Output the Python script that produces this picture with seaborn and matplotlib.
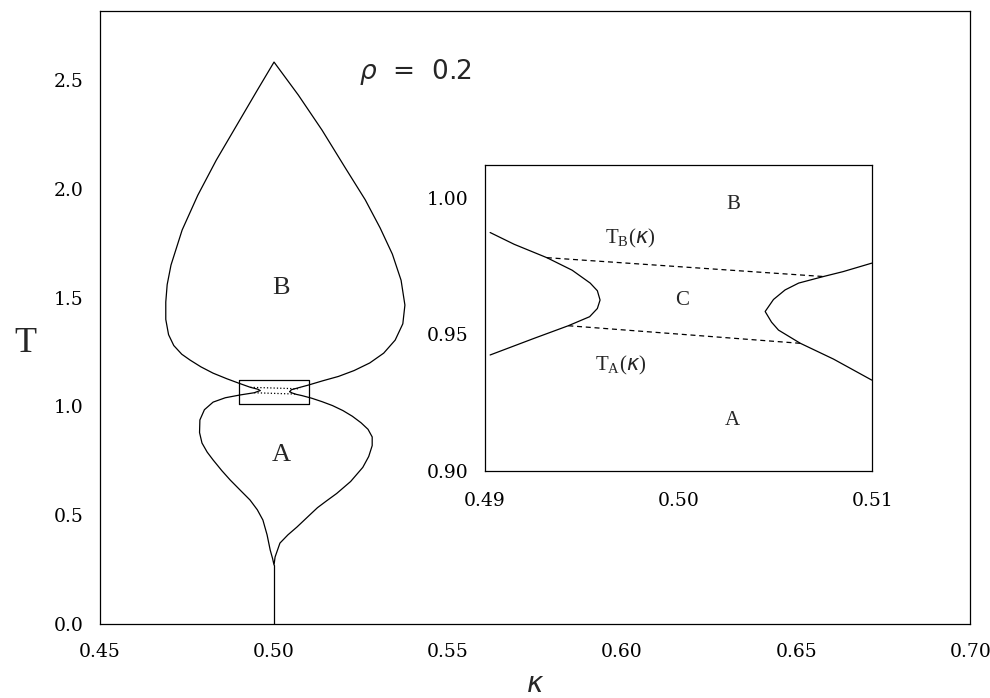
import matplotlib
matplotlib.use("Agg")
import matplotlib.pyplot as plt
import seaborn as sns
import pandas as pd

# ---------------- data ----------------
# main plot: upper loop (phase B boundary), left tip -> apex -> right tip
b_loop_k = [0.4960, 0.4954, 0.4932, 0.4897, 0.4865, 0.4825, 0.4790, 0.4759, 0.4735,
            0.4712, 0.4697, 0.4689, 0.4689, 0.4693, 0.4704, 0.4736, 0.4781, 0.4834,
            0.4893, 0.4952, 0.5000,
            0.5070, 0.5138, 0.5205, 0.5262, 0.5305, 0.5340, 0.5365, 0.5376, 0.5370,
            0.5348, 0.5315, 0.5275, 0.5230, 0.5185, 0.5140, 0.5098, 0.5068, 0.5050,
            0.5045]
b_loop_T = [1.073, 1.079, 1.088, 1.108, 1.127, 1.153, 1.182, 1.213, 1.240,
            1.280, 1.330, 1.400, 1.480, 1.560, 1.650, 1.811, 1.971, 2.132,
            2.293, 2.454, 2.583,
            2.431, 2.270, 2.096, 1.950, 1.820, 1.700, 1.580, 1.466, 1.380,
            1.305, 1.245, 1.200, 1.165, 1.138, 1.118, 1.098, 1.085, 1.077,
            1.068]
# main plot: lower loop (phase A boundary), left tip -> cusp -> right tip
a_loop_k = [0.4960, 0.4943, 0.4903, 0.4860, 0.4825, 0.4800, 0.4787, 0.4786, 0.4793,
            0.4808, 0.4825, 0.4850, 0.4874, 0.4903, 0.4931, 0.4952, 0.4968, 0.4980,
            0.4989, 0.4996, 0.5000,
            0.5003, 0.5017, 0.5040, 0.5066, 0.5105, 0.5125, 0.5150, 0.5180, 0.5220,
            0.5255, 0.5272, 0.5282, 0.5282, 0.5270, 0.5250, 0.5225, 0.5198, 0.5168,
            0.5138, 0.5108, 0.5080, 0.5063, 0.5052, 0.5045]
a_loop_T = [1.073, 1.063, 1.053, 1.040, 1.020, 0.985, 0.938, 0.880, 0.832,
            0.790, 0.754, 0.705, 0.662, 0.615, 0.570, 0.525, 0.478, 0.410,
            0.340, 0.300, 0.271,
            0.308, 0.372, 0.410, 0.446, 0.505, 0.535, 0.565, 0.600, 0.655,
            0.720, 0.770, 0.820, 0.860, 0.895, 0.925, 0.955, 0.981, 1.004,
            1.022, 1.038, 1.050, 1.056, 1.062, 1.068]
# vertical line below cusp
stem_k = [0.500, 0.500]
stem_T = [0.000, 0.271]
# dotted lines inside the small box (main plot)
tb_main_k = [0.4932, 0.5075]
tb_main_T = [1.088, 1.081]
ta_main_k = [0.4943, 0.5063]
ta_main_T = [1.063, 1.057]
# zoom box drawn on main plot
box_k = [0.490, 0.510, 0.510, 0.490, 0.490]
box_T = [1.011, 1.011, 1.121, 1.121, 1.011]

# inset curves
in_left_k = [0.49026, 0.4915, 0.49319, 0.4945, 0.49543, 0.4958, 0.49594,
             0.4958, 0.4954, 0.4943, 0.4925, 0.49026]
in_left_T = [0.9873, 0.9830, 0.9781, 0.9735, 0.9688, 0.9660, 0.9626,
             0.9595, 0.9565, 0.9532, 0.9485, 0.9425]
in_right_k = [0.50998, 0.5085, 0.50748, 0.5062, 0.5055, 0.5049, 0.50447,
              0.5048, 0.50516, 0.50628, 0.5080, 0.50998]
in_right_T = [0.9761, 0.9730, 0.9712, 0.9688, 0.9663, 0.9628, 0.9584,
              0.9545, 0.9516, 0.9468, 0.9410, 0.9333]
in_tb_k = [0.49319, 0.50748]
in_tb_T = [0.9781, 0.9712]
in_ta_k = [0.4943, 0.50628]
in_ta_T = [0.9532, 0.94677]

main_xticks = [0.45, 0.50, 0.55, 0.60, 0.65, 0.70]
main_yticks = [0.0, 0.5, 1.0, 1.5, 2.0, 2.5]
inset_xticks = [0.49, 0.50, 0.51]
inset_yticks = [0.90, 0.95, 1.00]

# ---------------- plotting ----------------
sns.set_theme(style="white")
plt.rcParams["font.family"] = ["DejaVu Serif"]
plt.rcParams["axes.linewidth"] = 0.9

fig = plt.figure(figsize=(9.9, 6.98), dpi=100)
ax = fig.add_axes([0.101, 0.106, 0.879, 0.878])
axi = fig.add_axes([0.490, 0.325, 0.391, 0.439])

lw = 0.9
def draw(axis, k, T, ls="-"):
    df = pd.DataFrame({"k": k, "T": T})
    sns.lineplot(data=df, x="k", y="T", sort=False, estimator=None, ax=axis,
                 color="black", linewidth=lw, linestyle=ls)

draw(ax, b_loop_k, b_loop_T)
draw(ax, a_loop_k, a_loop_T)
draw(ax, stem_k, stem_T)
draw(ax, tb_main_k, tb_main_T, ":")
draw(ax, ta_main_k, ta_main_T, ":")
draw(ax, box_k, box_T)

draw(axi, in_left_k, in_left_T)
draw(axi, in_right_k, in_right_T)
draw(axi, in_tb_k, in_tb_T, (0, (4, 3)))
draw(axi, in_ta_k, in_ta_T, (0, (4, 3)))

for a in (ax, axi):
    for s in a.spines.values():
        s.set_color("black")
        s.set_linewidth(0.9)
    a.tick_params(axis="both", direction="in", length=9, width=0.9,
                  colors="black", top=False, right=False, labelsize=13.5)
    a.set_xlabel("")
    a.set_ylabel("")

ax.set_xlim(0.45, 0.70)
ax.set_ylim(0.0, 2.817)
ax.set_xticks(main_xticks)
ax.set_xticklabels([f"{v:.2f}" for v in main_xticks])
ax.set_yticks(main_yticks)
ax.set_yticklabels([f"{v:.1f}" for v in main_yticks])
ax.tick_params(axis="x", pad=14)
ax.tick_params(axis="y", pad=12)

axi.set_xlim(0.49, 0.51)
axi.set_ylim(0.90, 1.0121)
axi.set_xticks(inset_xticks)
axi.set_xticklabels([f"{v:.2f}" for v in inset_xticks])
axi.set_yticks(inset_yticks)
axi.set_yticklabels([f"{v:.2f}" for v in inset_yticks])
axi.tick_params(axis="x", pad=15)
axi.tick_params(axis="y", pad=12)
axi.patch.set_facecolor("white")

ax.set_xlabel(r"$\kappa$", fontsize=20, family="DejaVu Sans")
ax.xaxis.set_label_coords(0.5, -0.098)
ax.xaxis.label.set_va("center")
ax.set_ylabel("T", fontsize=26, family="Liberation Serif", rotation=0,
              va="center", ha="center")
ax.yaxis.set_label_coords(-0.086, 0.457)

ax.text(0.5245, 2.537, r"$\rho$  =  0.2", fontsize=19, family="DejaVu Sans",
        ha="left", va="center")
ax.text(0.502, 1.544, "B", fontsize=19, family="Liberation Serif", ha="center", va="center")
ax.text(0.502, 0.777, "A", fontsize=19, family="Liberation Serif", ha="center", va="center")

axi.text(0.50284, 0.9974, "B", fontsize=15, family="Liberation Serif", ha="center", va="center")
axi.text(0.50016, 0.9626, "C", fontsize=15, family="Liberation Serif", ha="center", va="center")
axi.text(0.50275, 0.9187, "A", fontsize=15, family="Liberation Serif", ha="center", va="center")
axi.text(0.4975, 0.9852, r"T$_\mathregular{B}$($\kappa$)", fontsize=15,
         family="Liberation Serif", ha="center", va="center")
axi.text(0.4970, 0.9388, r"T$_\mathregular{A}$($\kappa$)", fontsize=15,
         family="Liberation Serif", ha="center", va="center")

fig.savefig("out.png", dpi=100, facecolor="white")
